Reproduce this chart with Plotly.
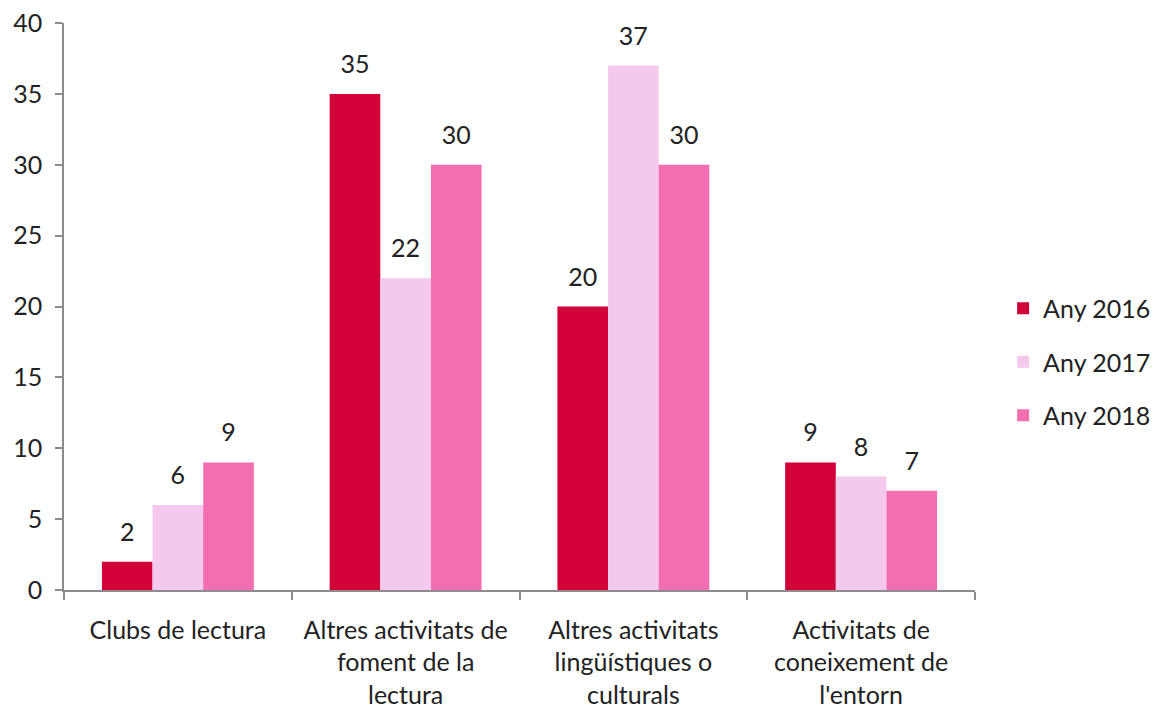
import plotly.graph_objects as go

categories = [
    "Clubs de lectura",
    "Altres activitats de<br>foment de la<br>lectura",
    "Altres activitats<br>lingüístiques o<br>culturals",
    "Activitats de<br>coneixement de<br>l'entorn",
]
series_names = ["Any 2016", "Any 2017", "Any 2018"]
values_2016 = [2, 35, 20, 9]
values_2017 = [6, 22, 37, 8]
values_2018 = [9, 30, 30, 7]
colors = ["#D20038", "#F5C8EE", "#F26EB0"]

font_family = "Lato, 'Open Sans', sans-serif"
axis_col = "#8C8C8C"
fsize = 25

fig = go.Figure()
for i, (name, vals) in enumerate(zip(series_names, [values_2016, values_2017, values_2018])):
    fig.add_trace(go.Bar(
        x=categories, y=vals, name=name,
        marker=dict(color=colors[i], line=dict(width=0)),
        offsetgroup=str(i),
        legendgroup=name,
    ))
# value labels, lifted a little above the bars like in Excel
for i, (name, vals) in enumerate(zip(series_names, [values_2016, values_2017, values_2018])):
    fig.add_trace(go.Scatter(
        x=categories, y=vals, mode="markers+text",
        marker=dict(size=22, opacity=0),
        text=[str(v) for v in vals],
        textposition="top center",
        textfont=dict(size=fsize, color="#222222", family=font_family),
        offsetgroup=str(i),
        cliponaxis=False, showlegend=False, hoverinfo="skip",
    ))

fig.update_layout(
    width=1157, height=710,
    barmode="group", bargap=0.333, bargroupgap=0,
    scattermode="group", scattergap=0.333,
    plot_bgcolor="white", paper_bgcolor="white",
    margin=dict(l=64, r=182, t=23, b=120),
    font=dict(family=font_family, size=fsize, color="#222222"),
    legend=dict(xref="container", x=0.867, yref="paper", y=0.402,
                xanchor="left", yanchor="middle",
                font=dict(size=fsize), tracegroupgap=18,
                itemwidth=30),
    showlegend=True,
)
fig.update_yaxes(range=[0, 40], dtick=5, showgrid=False, zeroline=False,
                 showline=True, linecolor=axis_col, linewidth=1.5,
                 ticks="outside", ticklen=7, tickcolor=axis_col, tickwidth=1.5,
                 tickfont=dict(size=fsize), ticklabelstandoff=8, automargin=False)
fig.update_xaxes(showline=True, linecolor=axis_col, linewidth=1.5,
                 ticks="outside", ticklen=8, tickcolor=axis_col, tickwidth=1.5,
                 tickson="boundaries", tickangle=0, tickfont=dict(size=fsize),
                 ticklabelstandoff=17, automargin=False)

# drop the browser's default body margin so the figure sits at the page corner
fig.write_html("out.html", config={"displayModeBar": False},
               post_script="document.body.style.margin='0';")
